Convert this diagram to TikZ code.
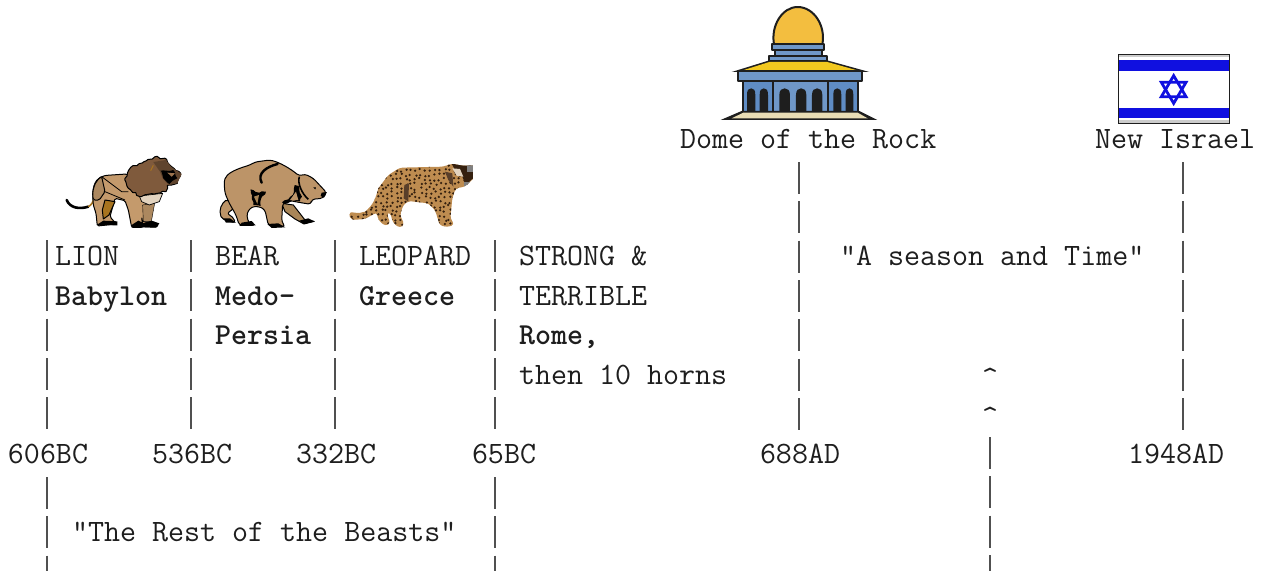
\documentclass[tikz,border=0pt]{standalone}
\usetikzlibrary{decorations.pathmorphing}
\usepackage{fontspec}
\definecolor{ink}{HTML}{1E1E1E}
\definecolor{pipec}{HTML}{505050}
\definecolor{lionb}{HTML}{C49A6C}
\definecolor{maneb}{HTML}{7F5A3C}
\definecolor{bearb}{HTML}{BC9468}
\definecolor{bearf}{HTML}{A98658}
\definecolor{leob}{HTML}{BE8C50}
\definecolor{leod}{HTML}{35200F}
\definecolor{domeg}{HTML}{F3BE3F}
\definecolor{roofg}{HTML}{F2C81F}
\definecolor{blueA}{HTML}{6F97C8}
\definecolor{blueB}{HTML}{5F8CC4}
\definecolor{beige}{HTML}{E9DDB5}
\definecolor{gold}{HTML}{A8741F}
\definecolor{chest}{HTML}{E2D3BF}
\definecolor{flagb}{HTML}{1010E0}
\tikzset{
 tx/.style={anchor=base west,inner sep=0pt,outer sep=0pt,text=ink,font=\ttfamily\fontsize{31.1pt}{34pt}\selectfont},
 tb/.style={tx,font=\ttfamily\bfseries\fontsize{30.48pt}{34pt}\selectfont},
 pipeline/.style={draw=pipec,line width=1.8pt,dash pattern=on 32pt off 7.35pt},
 art/.style={draw=black,line width=1pt,line join=round},
 fur/.style={decorate,decoration={random steps,segment length=3pt,amplitude=1pt}},
 domeline/.style={draw=ink,line width=2pt,line join=round}
}
\begin{document}
\begin{tikzpicture}[x=1pt,y=-1pt]
\useasboundingbox (0,0) rectangle (1261,571);
% --- texts
\node[tx] (dome) at (680,148.5) {Dome of the Rock};
\node[tx] (israel) at (1095,148.5) {New Israel};
\node[tx] (lion) at (55,265.7) {LION};
\node[tb] (babylon) at (55,305) {Babylon};
\node[tx] (bear) at (215,265.7) {BEAR};
\node[tb] (medo) at (215,305) {Medo-};
\node[tb] (persia) at (215,344.7) {Persia};
\node[tx] (leopard) at (359,265.7) {LEOPARD};
\node[tb] (greece) at (359,305) {Greece};
\node[tx] (strong) at (519,265.7) {STRONG \&};
\node[tx] (terrible) at (519,305) {TERRIBLE};
\node[tb] (rome) at (519,344.7) {Rome,};
\node[tx] (horns) at (519,384.2) {then 10 horns};
\node[tx] (season) at (840,265.7) {"A season and Time"};
\node[tx] (caretA) at (982,387) {\string^};
\node[tx] (caretB) at (982,426) {\string^};
\node[tx] (d606) at (8,463) {606BC};
\node[tx] (d536) at (152,463) {536BC};
\node[tx] (d332) at (296,463) {332BC};
\node[tx] (d65) at (472,463) {65BC};
\node[tx] (d688) at (760,463) {688AD};
\node[tx] (d1948) at (1128,463) {1948AD};
\node[tx] (rest) at (72,541.5) {"The Rest of the Beasts"};
% --- tick lines
\coordinate (a1) at (47,240); \coordinate (a2) at (47,431);
\coordinate (a3) at (47,477); \coordinate (a4) at (47,571);
\coordinate (b1) at (191,240); \coordinate (b2) at (191,431);
\coordinate (c1) at (335,240); \coordinate (c2) at (335,431);
\coordinate (e1) at (495,240); \coordinate (e2) at (495,431);
\coordinate (e3) at (495,477); \coordinate (e4) at (495,571);
\coordinate (f1) at (799,162); \coordinate (f2) at (799,431);
\coordinate (g1) at (1183,162); \coordinate (g2) at (1183,431);
\coordinate (h1) at (990,437); \coordinate (h2) at (990,571);
\foreach \p/\q in {a1/a2,a3/a4,b1/b2,c1/c2,e1/e2,e3/e4,f1/f2,g1/g2,h1/h2}
  \draw[pipeline] (\p) -- (\q);
% --- lion
\begin{scope}[shift={(60,150)},x=0.3333pt,y=-0.3333pt]
 \draw[black,line width=2.6pt,line cap=round] (20,150) .. controls (30,175) and (60,178) .. (85,170);
 \draw[draw=gold,line width=1.6pt] (85,170) .. controls (95,165) and (100,155) .. (103,140);
 \path[art,rounded corners=1.5pt,fill=lionb] (98,135) .. controls (100,95) and (115,80) .. (140,76) -- (200,72) -- (290,130) -- (262,165) -- (250,215) -- (295,222) -- (290,232) -- (250,230) -- (245,200) -- (248,232) -- (215,232) -- (205,180) -- (195,152) -- (165,145) -- (150,200) -- (160,212) -- (170,222) -- (112,228) -- (108,190) -- (100,165) -- cycle;
 \path[art,fill=lionb!88!black,rounded corners=1.5pt] (98,135) .. controls (100,105) and (112,88) .. (125,80) -- (135,125) -- (118,150) -- (100,150) -- cycle;
 \path[draw=black,fill=lionb!88!black] (248,165) -- (284,160) -- (274,215) -- (250,215) -- cycle;
 \path[art,fill=gold] (135,150) -- (165,155) -- (147,195) -- (130,207) -- (127,180) -- cycle;
 \draw[black,line width=.8pt] (125,80) -- (185,125) -- (205,125);
 \draw[black,line width=.8pt] (135,125) -- (195,150);
 \path[fill=black] (110,225) -- (130,212) -- (172,214) -- (172,226) -- cycle;
 \path[fill=black] (215,225) -- (235,212) -- (248,218) -- (250,233) -- (215,233) -- cycle;
 \path[fill=black] (248,220) -- (275,212) -- (298,220) -- (290,232) -- (250,232) -- cycle;
 \path[fill=chest,draw=black,line width=.7pt] (238,138) -- (308,130) -- (298,155) -- (268,165) -- (245,155) -- cycle;
 \path[fill=maneb,draw=black,line width=1pt,line join=round,fur] (195,85) -- (212,52) -- (250,36) -- (285,20) -- (320,28) -- (335,50) -- (362,70) -- (352,100) -- (322,106) -- (318,125) -- (282,132) -- (240,140) -- (205,115) -- cycle;
 \path[fill=maneb!75!black] (280,36) -- (318,30) -- (335,52) -- (365,72) -- (352,100) -- (325,104) -- (308,85) -- (300,65) -- cycle;
 \path[fill=black,fur] (302,62) -- (340,60) -- (352,85) -- (328,102) -- (310,85) -- cycle;
 \path[fill=maneb!60!lionb] (322,68) -- (345,70) -- (335,80) -- cycle;
 \draw[line width=1pt,gold] (272,62) -- (280,46);
\end{scope}
% --- bear
\begin{scope}[shift={(210,150)},x=0.3333pt,y=-0.3333pt]
 \path[art,rounded corners=2pt,fill=bearb] (52,148) .. controls (35,160) and (25,180) .. (35,205) -- (50,212) -- (75,218) -- (72,205) -- (52,190) -- (78,170) -- cycle;
 \path[art,fill=bearf] (215,160) -- (250,165) -- (285,210) -- (312,214) -- (282,222) -- (255,207) -- (225,185) -- cycle;
 \path[art,rounded corners=3pt,fill=bearb] (42,95) .. controls (50,72) and (70,60) .. (120,45) -- (135,36) -- (180,30) .. controls (210,38) and (240,55) .. (268,78) -- (285,72) -- (310,85) -- (335,112) -- (350,128) -- (338,145) -- (305,148) -- (303,163) -- (272,158) -- (240,152) -- (218,160) -- (215,215) -- (226,230) -- (175,226) -- (165,180) -- (150,170) -- (125,170) -- (110,190) -- (115,218) -- (136,226) -- (88,226) -- (78,195) -- (58,160) -- (45,130) -- cycle;
 \path[fill=black,fur] (122,118) -- (148,128) -- (168,125) -- (152,150) -- (152,168) -- (130,165) -- cycle;
 \path[fill=bearf] (132,140) -- (147,135) -- (142,162) -- cycle;
 \path[fill=black,fur] (216,157) -- (235,148) -- (252,125) -- (254,105) -- (266,108) -- (276,140) -- (270,154) -- (248,148) -- (225,162) -- cycle;
 \path[fill=bearb] (240,150) -- (258,125) -- (265,150) -- cycle;
 \draw[black,line width=2.4pt,line cap=round] (155,98) .. controls (140,70) and (170,50) .. (203,42);
 \draw[black,line width=1.6pt] (268,80) .. controls (262,100) and (275,130) .. (295,148);
 \fill[black] (335,128) -- (351,126) -- (342,143) -- (332,138) -- cycle;
 \fill[black] (310,112) -- (318,112) -- (316,118) -- cycle;
 \path[fill=black] (40,205) -- (60,205) -- (78,218) -- (48,218) -- cycle;
 \path[fill=black] (95,218) -- (125,213) -- (137,226) -- (88,228) -- cycle;
 \path[fill=black] (172,222) -- (205,220) -- (226,232) -- (185,234) -- cycle;
 \path[fill=black] (268,212) -- (295,205) -- (315,215) -- (282,222) -- cycle;
\end{scope}
% --- leopard
\begin{scope}[shift={(345,155)},x=0.3333pt,y=-0.3333pt]
 \def\leopath{(10,178) .. controls (20,170) and (40,178) .. (60,170) .. controls (85,150) and (92,130) .. (100,100) [rounded corners=3pt] -- (130,60) -- (165,38) -- (250,36) -- (295,35) -- (320,26) -- (352,32) [sharp corners] -- (384,32) -- (384,72) [rounded corners=3pt] -- (360,95) -- (332,100) -- (322,130) -- (316,190) -- (328,208) -- (312,216) -- (285,212) -- (270,165) -- (250,145) -- (190,138) -- (175,150) -- (165,180) -- (178,208) -- (165,219) -- (145,205) -- (135,172) -- (125,175) -- (136,205) -- (120,213) -- (100,195) -- (95,172) -- (60,192) -- (20,195) -- cycle}
 \fill[leob] \leopath;
 \begin{scope}
  \clip \leopath;
  \pgfmathsetseed{42}
  \foreach \i in {0,...,26}{\foreach \j in {0,...,14}{
    \pgfmathsetmacro{\px}{5+\i*14.5+rnd*9}
    \pgfmathsetmacro{\py}{28+\j*13.5+rnd*9}
    \fill[leod] (\px,\py) circle (3.8);
  }}
  \fill[leod] (320,26) -- (384,32) -- (384,70) -- (362,90) -- (350,60) -- (330,45) -- cycle;
  \fill[chest] (322,40) -- (345,42) -- (355,65) -- (335,62) -- cycle;
  \fill[gray] (365,30) rectangle (384,50);
  \fill[gray] (358,80) rectangle (384,96);
  \fill[maneb!70!black] (300,50) -- (322,55) -- (325,95) -- (310,75) -- cycle;
  \fill[maneb!70!black] (178,90) -- (192,85) -- (190,140) -- (176,130) -- cycle;
 \end{scope}
\end{scope}
% --- dome of the rock
\begin{scope}[shift={(700,0)},x=0.3333pt,y=-0.3333pt]
 \path[domeline,fill=domeg] (222,133) .. controls (212,78) and (246,21) .. (293,21) .. controls (342,21) and (378,78) .. (367,133) -- cycle;
 \path[domeline,fill=blueA] (217,133) rectangle (372,150);
 \path[domeline,fill=blueA] (225,150) rectangle (367,168);
 \path[domeline,fill=blueA] (208,168) rectangle (382,184);
 \path[fill=ink] (95,216) -- (205,182) -- (385,182) -- (508,216) -- cycle;
 \path[fill=roofg] (125,212) -- (208,186) -- (382,186) -- (475,212) -- cycle;
 \path[fill=blueB] (128,242) rectangle (473,333);
 \path[fill=blueA] (220,242) rectangle (382,333);
 \foreach \xa/\xb in {141/166,179/204,238/270,288/319,336/367,400/424,437/460}{
   \pgfmathsetmacro{\xm}{(\xa+\xb)/2}
   \path[fill=ink] (\xa,333) -- (\xa,285) .. controls (\xa,270) and (\xm-8,265) .. (\xm,265) .. controls (\xm+8,265) and (\xb,270) .. (\xb,285) -- (\xb,333) -- cycle;
 }
 \draw[ink,line width=2pt] (128,242) -- (128,335) (473,242) -- (473,335) (218,242) -- (218,335) (384,242) -- (384,335);
 \path[domeline,fill=blueA] (114,214) rectangle (487,242);
 \path[fill=ink] (62,360) -- (125,333) -- (478,333) -- (532,360) -- cycle;
 \path[fill=beige] (95,355) -- (130,338) -- (473,338) -- (503,355) -- cycle;
\end{scope}
% --- flag
\begin{scope}[shift={(1100,40)},x=0.3333pt,y=-0.3333pt]
 \path[draw=ink,line width=1.4pt,fill=white] (55,44) rectangle (388,250);
 \fill[gray!40] (57,46) rectangle (386,52);
 \fill[gray!40] (57,240) rectangle (386,248);
 \fill[flagb] (57,60) rectangle (388,93);
 \fill[flagb] (57,204) rectangle (388,235);
 \draw[flagb,line width=2.8pt,line join=miter] (221,107) -- (258,170) -- (184,170) -- cycle;
 \draw[flagb,line width=2.8pt,line join=miter] (221,190) -- (258,127) -- (184,127) -- cycle;
\end{scope}
\end{tikzpicture}
\end{document}
